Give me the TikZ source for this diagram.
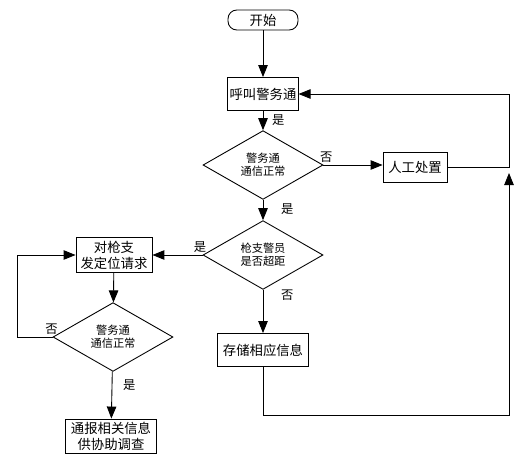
\documentclass[tikz,border=0pt]{standalone}
\usepackage{fontspec}
\setmainfont{Noto Sans CJK SC}
\usetikzlibrary{arrows.meta,shapes.geometric,positioning}

\begin{document}
\begin{tikzpicture}[x=0.02cm,y=-0.02cm,
  line width=0.5pt,
  >={Triangle[length=2.4mm,width=1.9mm]},
  box/.style={draw,rectangle,inner sep=1pt,align=center,font=\fontsize{7.6pt}{9pt}\selectfont},
  decide/.style={draw,diamond,inner sep=0pt,minimum width=2.4cm,align=center,font=\fontsize{6.4pt}{7.6pt}\selectfont},
  lbl/.style={font=\fontsize{7pt}{8pt}\selectfont,inner sep=1pt}]
\useasboundingbox (0,0) rectangle (517,463);

\node[box,rounded corners=5pt,minimum width=1.4cm,minimum height=0.4cm] (start) at (263,20) {开始};
\node[box,minimum width=1.4cm,minimum height=0.66cm] (call) at (263,94) {呼叫警务通};
\node[decide,minimum height=1.18cm] (chk1) at (263,165) {警务通\\通信正常};
\node[box,minimum width=1.28cm,minimum height=0.6cm] (manual) at (415,167) {人工处置};
\node[decide,minimum height=1.32cm] (dist) at (263,255) {枪支警员\\是否超距};
\node[box,minimum width=1.52cm,minimum height=0.7cm] (locate) at (114,255) {对枪支\\发定位请求};
\node[box,minimum width=1.82cm,minimum height=0.66cm] (store) at (263,350) {存储相应信息};
\node[decide,minimum height=1.18cm] (chk2) at (113,337) {警务通\\通信正常};
\node[box,minimum width=1.82cm,minimum height=0.68cm] (report) at (111,436) {通报相关信息\\供协助调查};

\coordinate (rtop) at (509,167);
\coordinate (rbot) at (509,173);
\coordinate (sdown) at (263,415);
\coordinate (lloop) at (17,337);

\draw[->] (start) -- (call);
\draw[->] (call) -- node[lbl,right=4pt,pos=0.45] {是} (chk1);
\draw[->] (chk1.east) -- node[lbl,above,pos=0.05] {否} (chk1.east -| manual.west);
\draw[->] (manual) -- (rtop) |- (call);
\draw[->] (chk1) -- node[lbl,right=9pt,pos=0.45] {是} (dist);
\draw[->] (dist) -- node[lbl,above,pos=0.05] {是} (locate);
\draw[->] (dist) -- node[lbl,right=9pt,pos=0.12] {否} (store);
\draw[->] (store.south) -- (sdown) -| (rbot);
\draw[->] (locate) -- (chk2);
\draw[->] (chk2.west) -- node[lbl,above,pos=0.03] {否} (lloop) |- (locate);
\draw[->] (chk2) -- node[lbl,right=5pt,pos=0.3] {是} (report);
\end{tikzpicture}
\end{document}
